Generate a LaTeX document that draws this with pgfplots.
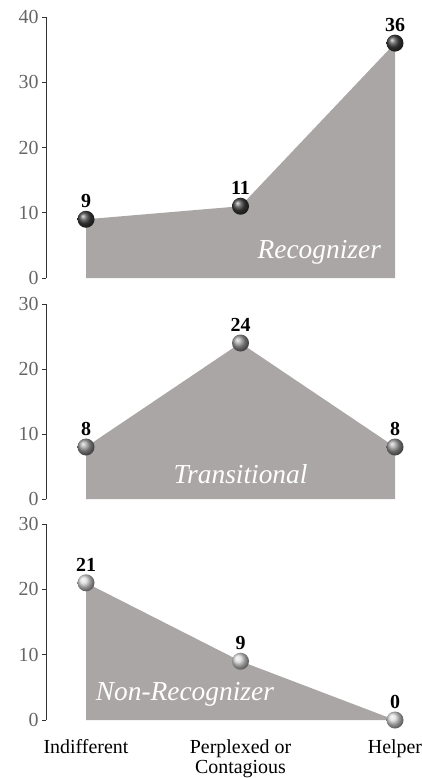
\documentclass[border=0pt]{standalone}
\usepackage{fontspec}
\setmainfont{Liberation Serif}
\usepackage{pgfplots}
\pgfplotsset{compat=1.18}
\usetikzlibrary{shadings}

\definecolor{areagray}{HTML}{AAA6A5}
\definecolor{ticktext}{HTML}{666666}

\pgfplotsset{
  panel/.style={
    scale only axis,
    width=349bp,
    xmin=-0.259, xmax=2,
    ymin=0,
    clip=false,
    axis y line=left,
    axis x line=bottom,
    x axis line style={draw=none},
    y axis line style={-, black!80, line width=0.8pt},
    tick align=outside,
    major tick length=4bp,
    ytick style={black!80, line width=0.8pt},
    xtick style={draw=none},
    xtick=\empty,
    yticklabel style={font=\fontsize{20}{20}\selectfont, text=ticktext},
    /pgf/number format/assume math mode=true,
    anchor=south west,
  },
  vals/.style={
    nodes near coords,
    every node near coord/.append style={font=\bfseries\fontsize{20}{20}\selectfont, black, anchor=south, yshift=8bp},
  },
}

\begin{document}
\begin{tikzpicture}
\path[use as bounding box] (0,0) rectangle (422bp,-778bp);

% Recognizer
\begin{axis}[panel, at={(46bp,-278bp)}, height=261bp, ymax=40, ytick={0,10,20,30,40}]
  \addplot[fill=areagray, draw=none, forget plot] coordinates {(0,9) (1,11) (2,36)} \closedcycle;
  \addplot[draw=none, mark=ball, mark size=8.5bp, mark options={ball color=black!75}, vals]
    coordinates {(0,9) (1,11) (2,36)};
  \node[white, font=\itshape\fontsize{27.5}{27.5}\selectfont] at (axis cs:1.51,4.0) {Recognizer};
\end{axis}

% Transitional
\begin{axis}[panel, at={(46bp,-499bp)}, height=195bp, ymax=30, ytick={0,10,20,30}]
  \addplot[fill=areagray, draw=none, forget plot] coordinates {(0,8) (1,24) (2,8)} \closedcycle;
  \addplot[draw=none, mark=ball, mark size=8.5bp, mark options={ball color=black!40}, vals]
    coordinates {(0,8) (1,24) (2,8)};
  \node[white, font=\itshape\fontsize{27.5}{27.5}\selectfont] at (axis cs:1.0,3.85) {Transitional};
\end{axis}

% Non-Recognizer
\begin{axis}[panel, at={(46bp,-720bp)}, height=196bp, ymax=30, ytick={0,10,20,30},
    xtick={0,1,2},
    xticklabels={Indifferent, {Perplexed or\\Contagious}, Helper},
    xticklabel style={font=\fontsize{20}{20.5}\selectfont, align=center, yshift=-12bp}]
  \addplot[fill=areagray, draw=none, forget plot] coordinates {(0,21) (1,9) (2,0)} \closedcycle;
  \addplot[draw=none, mark=ball, mark size=8.5bp, mark options={ball color=black!15}, vals]
    coordinates {(0,21) (1,9) (2,0)};
  \node[white, font=\itshape\fontsize{27.5}{27.5}\selectfont] at (axis cs:0.64,4.0) {Non-Recognizer};
\end{axis}
\end{tikzpicture}
\end{document}
